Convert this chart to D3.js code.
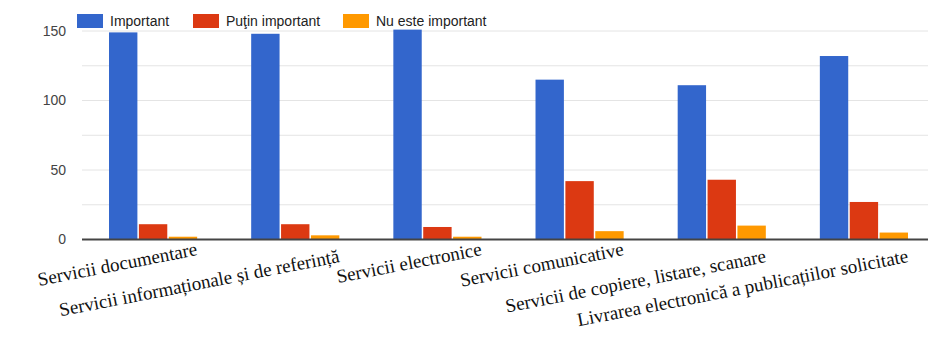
<!DOCTYPE html>
<html>
<head>
<meta charset="utf-8">
<script src="https://cdn.jsdelivr.net/npm/d3@7"></script>
<style>
  html, body { margin: 0; padding: 0; background: #fff; }
  svg { display: block; }
</style>
</head>
<body>
<div id="chart"></div>
<script>
// Categories of library services and the ratings they received
const categories = [
  "Servicii documentare",
  "Servicii informaționale și de referință",
  "Servicii electronice",
  "Servicii comunicative",
  "Servicii de copiere, listare, scanare",
  "Livrarea electronică a publicațiilor solicitate"
];
const seriesNames = ["Important", "Puţin important", "Nu este important"];
const important      = [149, 148, 151, 115, 111, 132];
const putinImportant = [11, 11, 9, 42, 43, 27];
const nuEsteImportant = [2, 3, 2, 6, 10, 5];
const yTicks = [0, 50, 100, 150];
const gridTicks = [0, 25, 50, 75, 100, 125, 150];

const seriesValues = [important, putinImportant, nuEsteImportant];
const colors = ["#3366cc", "#dc3912", "#ff9900"];

const width = 928, height = 340;
const plot = { left: 82, right: 935, top: 31, bottom: 239.5 };

const svg = d3.select("#chart").append("svg")
  .attr("width", width).attr("height", height);

const x0 = d3.scaleBand()
  .domain(categories)
  .range([plot.left, plot.right])
  .paddingInner(0.38)
  .paddingOuter(0.19);

const x1 = d3.scaleBand()
  .domain(seriesNames)
  .range([0, x0.bandwidth()])
  .paddingInner(0.05);

const y = d3.scaleLinear()
  .domain([0, 150])
  .range([plot.bottom, plot.top]);

// Horizontal gridlines
svg.append("g")
  .selectAll("line")
  .data(gridTicks.filter(d => d !== 0))
  .join("line")
  .attr("x1", plot.left).attr("x2", plot.right)
  .attr("y1", d => y(d)).attr("y2", d => y(d))
  .attr("stroke", "#e4e4e4").attr("stroke-width", 1);

// Y axis labels
const yAxis = d3.axisLeft(y).tickValues(yTicks).tickSize(0).tickPadding(0);
const yg = svg.append("g")
  .attr("transform", `translate(${plot.left - 16},0)`)
  .call(yAxis);
yg.select(".domain").remove();
yg.selectAll("text")
  .attr("font-family", "'Liberation Sans', Arial, sans-serif")
  .attr("font-size", 14)
  .attr("fill", "#444");

// Bars
const groups = svg.append("g")
  .selectAll("g")
  .data(categories.map((c, i) => ({ cat: c, i })))
  .join("g")
  .attr("transform", d => `translate(${x0(d.cat)},0)`);

groups.selectAll("rect")
  .data(d => seriesNames.map((s, k) => ({ s, k, v: seriesValues[k][d.i] })))
  .join("rect")
  .attr("x", d => x1(d.s))
  .attr("width", x1.bandwidth())
  .attr("y", d => y(d.v))
  .attr("height", d => y(0) - y(d.v))
  .attr("fill", d => colors[d.k]);

// Baseline
svg.append("line")
  .attr("x1", plot.left).attr("x2", plot.right)
  .attr("y1", y(0)).attr("y2", y(0))
  .attr("stroke", "#444").attr("stroke-width", 2);

// Category labels, slanted; longer names sit on a lower row
svg.append("g")
  .selectAll("text")
  .data(categories)
  .join("text")
  .attr("transform", d => {
    const cx = x0(d) + x0.bandwidth() / 2 + 45;
    const cy = 255 + (d.length > 25 ? 7 : 0);
    return `translate(${cx},${cy}) rotate(-11)`;
  })
  .attr("text-anchor", "end")
  .attr("font-family", "'Liberation Serif', 'Times New Roman', serif")
  .attr("font-size", 19)
  .attr("fill", "#111")
  .text(d => d);

// Legend
const legendX = [77, 193, 343];
const legend = svg.append("g")
  .selectAll("g")
  .data(seriesNames)
  .join("g")
  .attr("transform", (d, i) => `translate(${legendX[i]},14)`);
legend.append("rect")
  .attr("width", 26).attr("height", 14)
  .attr("fill", (d, i) => colors[i]);
legend.append("text")
  .attr("x", 33).attr("y", 12)
  .attr("font-family", "'Liberation Sans', Arial, sans-serif")
  .attr("font-size", 14)
  .attr("fill", "#222")
  .text(d => d);
</script>
</body>
</html>
